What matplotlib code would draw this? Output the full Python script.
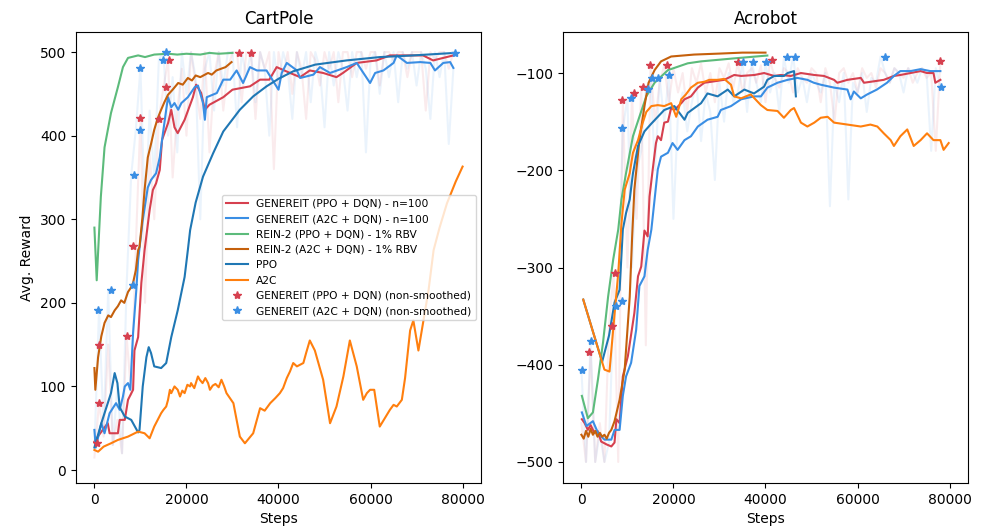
import numpy as np
import matplotlib
matplotlib.use("Agg")
import matplotlib.pyplot as plt

# ---------------- CartPole data ----------------
cp_red_x = [0, 1000, 1800, 2900, 3300, 5100, 5500, 6600, 7300, 8400, 8700, 9500, 10200, 10900, 12000, 12700,
            13400, 14200, 14700, 16000, 16700, 17400, 18100, 19600, 21400, 22100, 23200, 24000, 25000, 28000,
            30000, 33800, 36000, 38000, 39600, 42500, 44700, 46800, 49700, 52600, 54000, 57000, 61300, 64200,
            71400, 73600, 75800, 78000]
cp_red_y = [34, 42, 48, 56, 44, 44, 60, 60, 84, 96, 143, 159, 224, 263, 311, 335,
            343, 359, 395, 415, 431, 410, 403, 419, 446, 461, 451, 431, 437, 446,
            455, 459, 467, 467, 482, 475, 470, 478, 475, 470, 475, 487, 490, 496,
            496, 490, 493, 496]

cp_blue_x = [0, 300, 1500, 2200, 3300, 4700, 5500, 6200, 6600, 7300, 7800, 8400, 9100, 9500, 10500, 11600,
             12300, 13400, 14200, 14900, 15600, 16000, 16700, 17400, 18200, 18900, 20300, 21800, 22500, 23600,
             24000, 24400, 26600, 28000, 29500, 30900, 32300, 33800, 35300, 37400, 40000, 40700, 41800, 44000,
             44700, 47600, 49000, 51200, 54800, 57000, 59900, 61000, 62800, 65000, 65700, 67900, 70800, 73000,
             74000, 75800, 77300, 78000]
cp_blue_y = [48, 27, 56, 44, 68, 80, 72, 88, 100, 104, 96, 164, 215, 251, 299, 338,
             347, 355, 374, 403, 431, 446, 434, 439, 431, 439, 446, 458, 460, 439,
             419, 446, 451, 467, 467, 478, 463, 482, 478, 478, 455, 475, 487, 478,
             469, 473, 482, 475, 482, 487, 463, 475, 478, 487, 496, 487, 488, 487,
             478, 487, 488, 481]

cp_green_x = [0, 500, 1400, 2200, 3600, 5100, 6200, 7300, 9500, 11000, 13000, 16000, 18000, 20000, 23000,
              25000, 27000, 30000]
cp_green_y = [290, 227, 327, 386, 427, 458, 482, 493, 496, 494, 497, 498, 497, 498, 497, 499, 498, 499]

cp_dorange_x = [0, 200, 800, 1500, 2200, 3000, 3600, 4400, 5100, 5800, 6500, 7300, 7900, 8400, 9000, 9500, 9800,
                10400, 10900, 11600, 12300, 13000, 13700, 14500, 15200, 16000, 17000, 18200, 19200, 20300, 21200,
                22000, 23000, 24700, 25500, 26500, 27500, 28500, 29800]
cp_dorange_y = [122, 96, 135, 160, 176, 185, 183, 191, 196, 203, 200, 213, 218, 224, 239, 263, 267,
                300, 335, 374, 390, 407, 420, 431, 440, 449, 455, 463, 461, 469, 466,
                472, 470, 475, 473, 478, 480, 482, 488]

cp_ppo_x = [0, 1500, 3600, 4400, 5000, 5500, 6600, 8000, 9500, 9800, 10500, 11300, 11800, 12300, 13000, 14500,
            15600, 16700, 18100, 19600, 20300, 20800, 22000, 23600, 25800, 28000, 31600, 34500, 37400, 40000,
            43200, 48000, 54800, 62000, 69300, 78300]
cp_ppo_y = [27, 56, 92, 116, 104, 75, 64, 60, 45, 48, 100, 135, 147, 140, 124, 122,
            128, 159, 191, 231, 263, 287, 320, 351, 379, 405, 431, 447, 459, 468,
            477, 485, 490, 494, 496, 499]

cp_a2c_x = [0, 800, 2000, 3600, 5100, 7300, 9500, 10900, 12000, 13000, 14500, 15000, 15600, 16000, 16400, 16700,
            17400, 18100, 18600, 19100, 19600, 20200, 20800, 21000, 21700, 22500, 22900, 23500, 24100, 24700,
            25100, 25700, 26300, 27000, 27600, 28200, 28700, 30200, 31600, 32700, 34500, 36000, 37000, 38200,
            39300, 40300, 41000, 41800, 42500, 43200, 44000, 45400, 46000, 46800, 47900, 49700, 51200, 52600,
            54100, 55500, 57000, 58400, 59200, 59900, 60800, 62000, 64200, 65000, 65700, 66800, 67500, 68600,
            69300, 70400, 71500, 72600, 73700, 75000, 76600, 78500, 80000]
cp_a2c_y = [24, 22, 28, 32, 36, 40, 46, 44, 38, 52, 68, 72, 76, 84, 96, 92,
            100, 96, 88, 95, 92, 102, 100, 104, 98, 112, 108, 104, 110, 104,
            96, 101, 103, 99, 108, 100, 92, 80, 40, 32, 44, 74, 71, 80,
            86, 92, 98, 110, 118, 128, 124, 128, 140, 155, 143, 108, 56, 76,
            112, 155, 124, 84, 92, 96, 96, 52, 72, 78, 76, 84, 110, 167,
            179, 143, 179, 215, 263, 290, 319, 345, 363]

raw_x = np.arange(0, 79000, 1000)
cp_red_raw = [15, 80, 40, 150, 30, 60, 20, 160, 90, 268, 420, 200, 380, 300, 420, 458, 490, 350, 430, 480,
              400, 500, 460, 420, 500, 380, 470, 500, 430, 480, 500, 499, 440, 500, 499, 420, 500, 480, 500, 360,
              500, 470, 500, 450, 500, 480, 420, 500, 490, 460, 500, 480, 500, 440, 500, 500, 470, 500, 500, 480,
              500, 500, 460, 500, 500, 490, 500, 500, 470, 500, 500, 500, 430, 500, 490, 500, 500, 480, 500]
cp_blue_raw = [25, 191, 50, 215, 30, 100, 20, 221, 353, 407, 481, 300, 430, 350, 491, 500, 400, 470, 380, 500,
               450, 500, 470, 300, 480, 500, 430, 500, 460, 500, 500, 410, 500, 470, 500, 440, 500, 480, 400, 500,
               460, 500, 480, 420, 500, 470, 500, 440, 500, 480, 410, 500, 460, 500, 480, 430, 500, 470, 500, 380,
               490, 500, 450, 500, 470, 500, 440, 500, 480, 500, 460, 500, 480, 420, 500, 470, 500, 390, 480]

cp_red_star_x = [500, 1000, 1000, 7100, 8400, 9800, 14000, 15500, 16300, 31500, 34000]
cp_red_star_y = [32, 80, 149, 160, 268, 421, 420, 458, 490, 499, 499]
cp_blue_star_x = [800, 3700, 8400, 8700, 9900, 10000, 14900, 15600, 78300]
cp_blue_star_y = [191, 215, 221, 353, 407, 481, 491, 500, 499]

# ---------------- Acrobot data ----------------
ac_red_x = [100, 700, 1400, 2000, 2800, 3500, 4300, 5500, 6500, 7200, 7600, 8300, 9000, 10100, 11500, 12300,
            13000, 13700, 14400, 14800, 15500, 16200, 16600, 17300, 18000, 18800, 19500, 20200, 21700, 22400,
            23800, 25300, 26700, 28200, 31000, 33200, 34700, 37600, 39700, 41900, 43300, 45500, 47700, 50600,
            52700, 54900, 55600, 57800, 60700, 61400, 65700, 67900, 69300, 71500, 73700, 75100, 76500, 76900,
            78000]
ac_red_y = [-456, -460, -467, -462, -470, -468, -479, -482, -484, -480, -456, -460, -412, -391, -347, -309,
            -299, -262, -268, -227, -199, -172, -165, -169, -151, -150, -136, -138, -131, -127,
            -124, -115, -110, -109, -107, -102, -103, -102, -100, -103, -102, -103, -100, -102,
            -103, -107, -110, -107, -105, -110, -107, -103, -102, -100, -98, -100, -100, -110,
            -107]

ac_blue_x = [100, 1100, 2500, 3600, 5000, 6500, 7200, 8300, 9000, 9700, 10800, 11900, 12600, 13700, 14400, 15200,
             16600, 17300, 18800, 19800, 20900, 22400, 23800, 25300, 27400, 29600, 30300, 32500, 34700, 37500,
             39000, 40400, 42600, 44800, 46900, 49100, 50500, 52000, 54900, 57800, 58500, 59200, 60700, 62100,
             64200, 66400, 67900, 69300, 71500, 73700, 75800, 78000]
ac_blue_y = [-449, -463, -458, -470, -477, -477, -467, -467, -432, -412, -398, -364, -319, -309, -282, -261,
             -199, -186, -182, -172, -179, -169, -165, -155, -148, -145, -138, -134, -127, -124,
             -124, -115, -110, -107, -105, -107, -110, -112, -115, -117, -127, -119, -126, -122,
             -117, -110, -103, -98, -98, -96, -98, -98]

ac_green_x = [100, 1400, 2500, 3600, 4700, 5800, 6900, 8000, 8700, 9700, 11200, 12600, 14100, 15900, 18800,
              23100, 26000, 33000, 40400]
ac_green_y = [-432, -455, -449, -415, -377, -330, -292, -261, -230, -203, -165, -145, -124, -110, -97,
              -90, -88, -85, -82]

ac_dorange_x = [0, 500, 1000, 1500, 2000, 2500, 3000, 3500, 4000, 4500, 5000, 5500, 6000, 6500, 7200, 8300,
                9400, 10500, 11000, 11500, 12600, 13700, 14600, 15900, 17300, 19500, 24500, 30000, 35000, 40000]
ac_dorange_y = [-472, -476, -468, -474, -466, -472, -468, -474, -470, -474, -472, -476, -470, -467, -458, -436,
                -405, -330, -271, -220, -169, -134, -110, -97, -88, -83, -81, -80, -79, -79]

ac_ppo_x = [400, 4500, 6000, 7200, 8300, 9000, 9700, 10500, 11200, 12300, 13700, 15200, 16600, 18000, 20200,
            22400, 23100, 26000, 27400, 29600, 31800, 33200, 35400, 37500, 39700, 40400, 41900, 44000, 44800,
            46200, 46600]
ac_ppo_y = [-333, -397, -370, -336, -323, -261, -244, -230, -203, -175, -160, -152, -145, -138, -134,
            -148, -141, -131, -121, -124, -117, -124, -117, -121, -114, -107, -103, -103, -100,
            -98, -124]

ac_a2c_x = [400, 5000, 6100, 6900, 8000, 8700, 9400, 10500, 11200, 12300, 13400, 14100, 15200, 16600, 18000,
            19500, 20600, 21700, 22700, 23800, 25300, 26700, 27800, 29600, 31000, 32500, 33200, 34700, 36800,
            39000, 40400, 42600, 44000, 45500, 46200, 47700, 49100, 50600, 52000, 53500, 54900, 57800, 60700,
            62800, 64300, 65700, 67200, 67900, 69300, 70800, 72200, 73700, 75100, 76500, 78000, 78700, 79800]
ac_a2c_y = [-333, -405, -407, -364, -306, -255, -220, -203, -182, -169, -150, -140, -134, -133, -134,
            -131, -145, -127, -122, -115, -110, -109, -107, -107, -106, -112, -124, -126, -122,
            -133, -138, -139, -146, -138, -136, -151, -155, -151, -146, -145, -151, -153, -155,
            -153, -155, -162, -169, -175, -165, -158, -175, -169, -162, -169, -169, -179, -172]

ac_red_raw = [-460, -500, -387, -500, -460, -500, -360, -306, -500, -128, -300, -121, -250, -114, -380, -92,
              -150, -110, -92, -130, -95, -120, -100, -140, -95, -110, -90, -120, -100, -130, -95, -105, -90,
              -115, -89, -120, -100, -95, -110, -92, -130, -87, -105, -115, -95, -100, -120, -95, -105, -110,
              -95, -100, -130, -95, -110, -150, -100, -95, -110, -100, -120, -95, -105, -100, -115, -95, -100,
              -110, -95, -100, -105, -95, -110, -100, -95, -105, -100, -180, -88]
ac_blue_raw = [-405, -500, -376, -500, -470, -500, -480, -340, -334, -157, -126, -300, -200, -180, -116, -105,
               -200, -105, -150, -102, -250, -140, -120, -160, -130, -110, -170, -120, -140, -210, -110, -150,
               -100, -130, -120, -89, -140, -89, -110, -130, -89, -120, -100, -140, -84, -110, -83, -120, -105,
               -130, -100, -110, -120, -100, -237, -110, -130, -100, -230, -110, -120, -100, -140, -105, -110,
               -83, -100, -110, -95, -100, -120, -95, -100, -110, -95, -100, -180, -95, -114]

ac_red_star_x = [1600, 6600, 7200, 8900, 11400, 13400, 15000, 18600, 34100, 41400, 78000]
ac_red_star_y = [-387, -360, -306, -128, -121, -114, -92, -92, -89, -87, -88]
ac_blue_star_x = [100, 2000, 7600, 8800, 8900, 10800, 14400, 15400, 16600, 19000, 35200, 37200, 40200, 44600,
                  46400, 65900, 78100]
ac_blue_star_y = [-405, -376, -340, -334, -157, -126, -116, -105, -105, -102, -89, -89, -89, -84,
                  -83, -83, -114]

# ---------------- styling ----------------
C_RED = '#d6404f'
C_BLUE = '#3a8ee4'
C_GREEN = '#5cbb7b'
C_DORANGE = '#c5600c'
C_PPO = '#1f77b4'
C_A2C = '#ff7f0e'

fig = plt.figure(figsize=(9.87, 5.31), dpi=100)
ax1 = fig.add_axes([76 / 987, 1 - 483 / 531, 405 / 987, 451 / 531])
ax2 = fig.add_axes([563 / 987, 1 - 483 / 531, 405 / 987, 451 / 531])


def draw(ax, red_raw, blue_raw, red, blue, green, dorange, ppo, a2c, rstar, bstar):
    ax.plot(raw_x, red_raw, color=C_RED, alpha=0.1, lw=1.5)
    ax.plot(raw_x, blue_raw, color=C_BLUE, alpha=0.1, lw=1.5)
    ax.plot(*red, color=C_RED, lw=1.5, label='GENEREIT (PPO + DQN) - n=100')
    ax.plot(*blue, color=C_BLUE, lw=1.5, label='GENEREIT (A2C + DQN) - n=100')
    ax.plot(*green, color=C_GREEN, lw=1.5, label='REIN-2 (PPO + DQN) - 1% RBV')
    ax.plot(*dorange, color=C_DORANGE, lw=1.5, label='REIN-2 (A2C + DQN) - 1% RBV')
    ax.plot(*ppo, color=C_PPO, lw=1.5, label='PPO')
    ax.plot(*a2c, color=C_A2C, lw=1.5, label='A2C')
    ax.plot(*rstar, ls='none', marker='*', ms=6, color=C_RED, label='GENEREIT (PPO + DQN) (non-smoothed)')
    ax.plot(*bstar, ls='none', marker='*', ms=6, color=C_BLUE, label='GENEREIT (A2C + DQN) (non-smoothed)')
    ax.set_xlim(-4000, 84000)
    ax.set_xticks([0, 20000, 40000, 60000, 80000])
    ax.set_xlabel('Steps')


draw(ax1, cp_red_raw, cp_blue_raw, (cp_red_x, cp_red_y), (cp_blue_x, cp_blue_y), (cp_green_x, cp_green_y),
     (cp_dorange_x, cp_dorange_y), (cp_ppo_x, cp_ppo_y), (cp_a2c_x, cp_a2c_y),
     (cp_red_star_x, cp_red_star_y), (cp_blue_star_x, cp_blue_star_y))
draw(ax2, ac_red_raw, ac_blue_raw, (ac_red_x, ac_red_y), (ac_blue_x, ac_blue_y), (ac_green_x, ac_green_y),
     (ac_dorange_x, ac_dorange_y), (ac_ppo_x, ac_ppo_y), (ac_a2c_x, ac_a2c_y),
     (ac_red_star_x, ac_red_star_y), (ac_blue_star_x, ac_blue_star_y))

ax1.set_ylim(-15.5, 524)
ax1.set_yticks([0, 100, 200, 300, 400, 500])
ax1.set_title('CartPole')
ax1.set_ylabel('Avg. Reward')
ax1.legend(loc='center right', fontsize=7.7)

ax2.set_ylim(-521.6, -57.8)
ax2.set_yticks([-500, -400, -300, -200, -100])
ax2.set_title('Acrobot')

fig.savefig('out.png', dpi=100)
